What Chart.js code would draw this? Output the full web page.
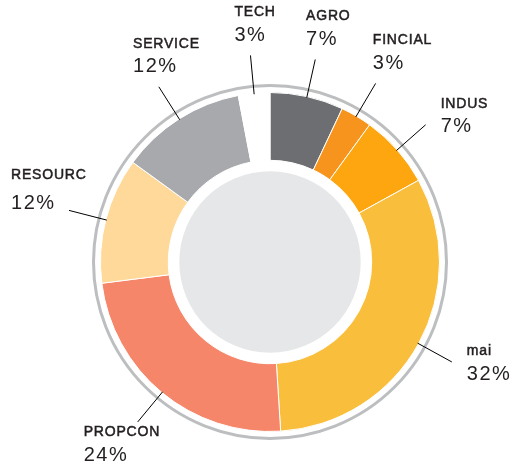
<!DOCTYPE html>
<html>
<head>
<meta charset="utf-8">
<script src="https://cdn.jsdelivr.net/npm/chart.js@4"></script>
<style>
  html, body { margin: 0; padding: 0; background: #fff; }
  #wrap { width: 516px; height: 468px; position: relative; }
</style>
</head>
<body>
<div id="wrap"><canvas id="c"></canvas></div>
<script>
// sector split, clockwise from 12 o'clock
const sectors = ['AGRO', 'FINCIAL', 'INDUS', 'mai', 'PROPCON', 'RESOURC', 'SERVICE', 'TECH'];
const shares = [7, 3, 7, 32, 24, 12, 12, 3];
const sliceColors = ['#6d6e71', '#f7941d', '#fda60f', '#f9be3c', '#f6866a', '#fed999', '#a7a9ac', '#ffffff'];

const ink = '#231f20';
const ringGrey = '#bcbec0';
const discGrey = '#e6e7e8';

// grey outer ring + inner disc drawn around the doughnut
const frame = {
  id: 'frame',
  afterDatasetsDraw(chart) {
    const arc = chart.getDatasetMeta(0).data[0];
    if (!arc) return;
    const { x, y, innerRadius, outerRadius } = arc.getProps(['x', 'y', 'innerRadius', 'outerRadius'], true);
    const ctx = chart.ctx;
    ctx.save();
    ctx.beginPath();
    ctx.arc(x, y, outerRadius + 7, 0, Math.PI * 2);
    ctx.strokeStyle = ringGrey;
    ctx.lineWidth = 3;
    ctx.stroke();
    ctx.beginPath();
    ctx.arc(x, y, innerRadius - 11, 0, Math.PI * 2);
    ctx.fillStyle = discGrey;
    ctx.fill();
    ctx.restore();
  },
};

// leader lines + two-line labels (name / percent)
const callouts = {
  id: 'callouts',
  afterDraw(chart) {
    const ctx = chart.ctx;
    const meta = chart.getDatasetMeta(0);
    ctx.save();
    meta.data.forEach((arc, i) => {
      const { x, y, startAngle, endAngle, outerRadius } =
        arc.getProps(['x', 'y', 'startAngle', 'endAngle', 'outerRadius'], true);
      const mid = (startAngle + endAngle) / 2;
      const c = Math.cos(mid), s = Math.sin(mid);
      const x1 = x + c * (outerRadius - 1), y1 = y + s * (outerRadius - 1);
      const px = x + c * (outerRadius + 38), py = y + s * (outerRadius + 38);

      ctx.beginPath();
      ctx.moveTo(x1, y1);
      ctx.lineTo(px, py);
      ctx.strokeStyle = '#000';
      ctx.lineWidth = 1;
      ctx.stroke();

      // angle clockwise from top, degrees
      let deg = (mid + Math.PI / 2) * 180 / Math.PI;
      deg = ((deg % 360) + 360) % 360;
      const sinT = c, cosT = -s;
      let left, nameY, pctY;
      if (deg >= 300 || deg < 40) {
        left = px + 22 * sinT - 14; pctY = py - 20; nameY = py - 43;
      } else if (deg < 140) {
        left = px + 15; nameY = py - 15 - 9 * cosT; pctY = nameY + 23;
      } else if (deg < 220) {
        left = px - 54; nameY = py + 10; pctY = py + 34;
      } else {
        left = px - 58; pctY = py - 7; nameY = py - 35;
      }

      ctx.textAlign = 'left';
      ctx.textBaseline = 'middle';
      // names: regular face with a hairline stroke for a medium weight
      ctx.letterSpacing = '0.8px';
      ctx.font = '14px "Liberation Sans", Arial, sans-serif';
      ctx.fillStyle = ink;
      ctx.strokeStyle = ink;
      ctx.lineWidth = 0.5;
      ctx.fillText(sectors[i], left, nameY);
      ctx.strokeText(sectors[i], left, nameY);
      ctx.letterSpacing = '1.5px';
      ctx.font = '20px "Liberation Sans", Arial, sans-serif';
      ctx.fillText(shares[i] + '%', left, pctY);
    });
    ctx.restore();
  },
};

new Chart(document.getElementById('c'), {
  type: 'doughnut',
  data: {
    labels: sectors,
    datasets: [{
      data: shares,
      backgroundColor: sliceColors,
      borderColor: '#ffffff',
      borderWidth: 1,
      hoverOffset: 0,
    }],
  },
  options: {
    responsive: true,
    maintainAspectRatio: false,
    animation: false,
    cutout: '60%',
    layout: { padding: { left: 100, right: 76, top: 92, bottom: 36 } },
    plugins: { legend: { display: false }, tooltip: { enabled: false } },
  },
  plugins: [frame, callouts],
});
</script>
</body>
</html>
